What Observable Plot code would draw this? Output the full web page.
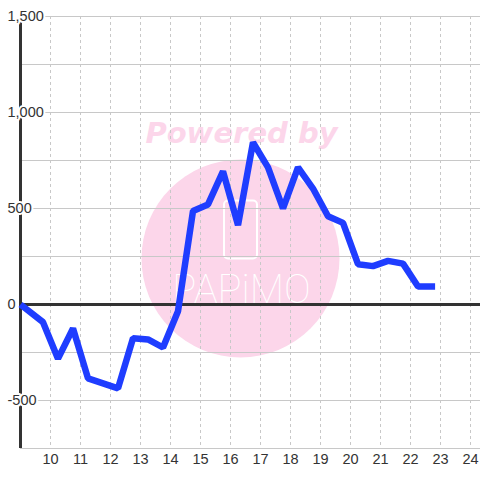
<!DOCTYPE html>
<html>
<head>
<meta charset="utf-8">
<script src="https://cdn.jsdelivr.net/npm/d3@7"></script>
<script src="https://cdn.jsdelivr.net/npm/@observablehq/plot@0.6"></script>
<style>
  html, body { margin: 0; padding: 0; background: #ffffff; }
</style>
</head>
<body>
<div id="chart"></div>
<script>
// Data (hour of day, value)
const hours  = [9.0, 9.75, 10.25, 10.75, 11.25, 12.25, 12.75, 13.25, 13.75, 14.25, 14.75, 15.25, 15.75, 16.25, 16.75, 17.25, 17.75, 18.25, 18.75, 19.25, 19.75, 20.25, 20.75, 21.25, 21.75, 22.25, 22.82];
const values = [0, -92, -282, -125, -385, -437, -176, -182, -224, -35, 487, 521, 693, 413, 844, 714, 500, 714, 604, 460, 425, 210, 200, 227, 213, 94, 94];

const xTicks = [10, 11, 12, 13, 14, 15, 16, 17, 18, 19, 20, 21, 22, 23, 24];
const yGrid = [-750, -500, -250, 0, 250, 500, 750, 1000, 1250, 1500];
const yTicks = [-500, 0, 500, 1000, 1500];
const yTickLabels = ["-500", "0", "500", "1,000", "1,500"];
const watermarkTop = ["Powered by"];
const watermarkName = ["PAPiMO"];

const data = hours.map((h, i) => ({hour: h, value: values[i]}));

const phoneSymbol = {
  draw(ctx) {
    const w = 33, h = 58, r = 4;
    const x0 = -w / 2, y0 = -h / 2, x1 = w / 2, y1 = h / 2;
    ctx.moveTo(x0 + r, y0);
    ctx.lineTo(x1 - r, y0);
    ctx.arcTo(x1, y0, x1, y0 + r, r);
    ctx.lineTo(x1, y1 - r);
    ctx.arcTo(x1, y1, x1 - r, y1, r);
    ctx.lineTo(x0 + r, y1);
    ctx.arcTo(x0, y1, x0, y1 - r, r);
    ctx.lineTo(x0, y0 + r);
    ctx.arcTo(x0, y0, x0 + r, y0, r);
    ctx.closePath();
  }
};

const pink = "#fcd6ea";

const chart = Plot.plot({
  width: 480,
  height: 480,
  marginLeft: 20,
  marginRight: 0,
  marginTop: 16,
  marginBottom: 32,
  x: {domain: [9, 24.333], axis: null},
  y: {domain: [-750, 1500], axis: null},
  style: {
    fontFamily: "'Liberation Sans', Arial, sans-serif",
    fontSize: "14.5px",
    background: "#ffffff",
    color: "#333"
  },
  marks: [
    // watermark
    Plot.dot([0], {frameAnchor: "middle", dx: -10, dy: 26, r: 99, fill: pink, stroke: null}),
    Plot.text(watermarkTop, {frameAnchor: "middle", dx: -9, dy: -99, text: d => d, fill: pink,
      fontSize: 29, fontWeight: "bold", fontStyle: "italic", fontFamily: "'DejaVu Sans', sans-serif"}),
    Plot.dot([0], {frameAnchor: "middle", dx: -10, dy: -3, symbol: phoneSymbol, r: 10, fill: "none", stroke: "#ffffff", strokeWidth: 2}),
    Plot.text(watermarkName, {frameAnchor: "middle", dx: -9, dy: 58, text: d => d, fill: "#ffffff",
      fontSize: 40, fontWeight: 100, fontFamily: "Roboto, sans-serif"}),
    // grid
    Plot.gridY(yGrid, {stroke: "#c8c8c8", strokeOpacity: 1, strokeWidth: 1}),
    Plot.gridX(xTicks, {stroke: "#c8c8c8", strokeOpacity: 1, strokeWidth: 1, strokeDasharray: "3,3"}),
    // zero line and y axis line
    Plot.ruleY([0], {stroke: "#333333", strokeWidth: 3}),
    Plot.ruleX([9], {stroke: "#333333", strokeWidth: 3}),
    // data
    Plot.line(data, {x: "hour", y: "value", stroke: "#1f3dff", strokeWidth: 6.5, strokeLinejoin: "miter", strokeLinecap: "butt"}),
    // y labels
    Plot.text(yTicks, {y: d => d, frameAnchor: "left", textAnchor: "start", dx: -13,
      text: (d, i) => yTickLabels[i], fill: "#333", stroke: "#ffffff", strokeWidth: 4, paintOrder: "stroke"}),
    // x labels
    Plot.text(xTicks, {x: d => d, frameAnchor: "bottom", lineAnchor: "top", dy: 5,
      text: d => String(d), fill: "#333"})
  ]
});

document.getElementById("chart").appendChild(chart);
</script>
</body>
</html>
